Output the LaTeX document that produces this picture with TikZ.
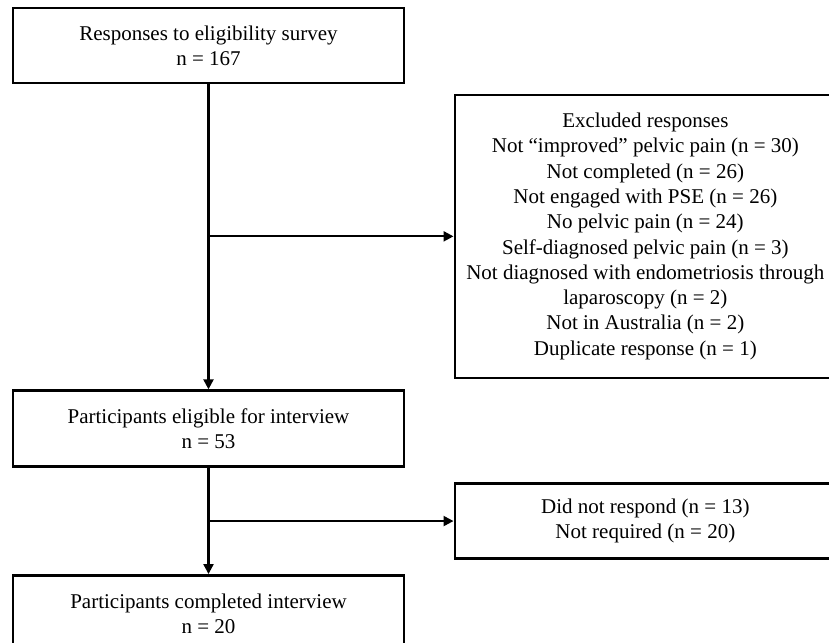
\documentclass[tikz,border=0pt]{standalone}
\usepackage{fontspec}
\setmainfont{Liberation Serif}
\usetikzlibrary{arrows.meta,positioning}

\begin{document}
\begin{tikzpicture}[>={Triangle[length=10bp,width=10bp]},
	box/.style={draw,line width=2.7bp,align=center,inner sep=0pt,minimum width=391bp,
		font=\fontsize{21bp}{25.3bp}\selectfont},
	flow/.style={->,line width=2.2bp}]
	\useasboundingbox (0,0) rectangle (829bp,-643bp);
	\node[box,minimum height=75bp] (resp) at (208.5bp,-45.5bp) {Responses to eligibility survey\\n = 167};
	\node[box,minimum height=76bp] [below=305bp of resp] (elig) {Participants eligible for interview\\n = 53};
	\node[box,minimum height=77bp] [below=106bp of elig] (done) {Participants completed interview\\n = 20};
	\coordinate[below=152bp of resp] (b_1);
	\coordinate[below=53bp of elig] (b_2);
	\node[box,minimum width=381bp,minimum height=283bp] [right=245bp of b_1] (excl)
		{Excluded responses\\Not “improved” pelvic pain (n = 30)\\Not completed (n = 26)\\Not engaged with PSE (n = 26)\\No pelvic pain (n = 24)\\Self-diagnosed pelvic pain (n = 3)\\Not diagnosed with endometriosis through\\laparoscopy (n = 2)\\Not in Australia (n = 2)\\Duplicate response (n = 1)};
	\node[box,minimum width=381bp,minimum height=75bp] [right=245bp of b_2] (norsp)
		{Did not respond (n = 13)\\Not required (n = 20)};
	\path[flow]
		(resp) edge (elig)
		(b_1) edge (excl)
		(elig) edge (done)
		(b_2) edge (norsp);
\end{tikzpicture}
\end{document}
